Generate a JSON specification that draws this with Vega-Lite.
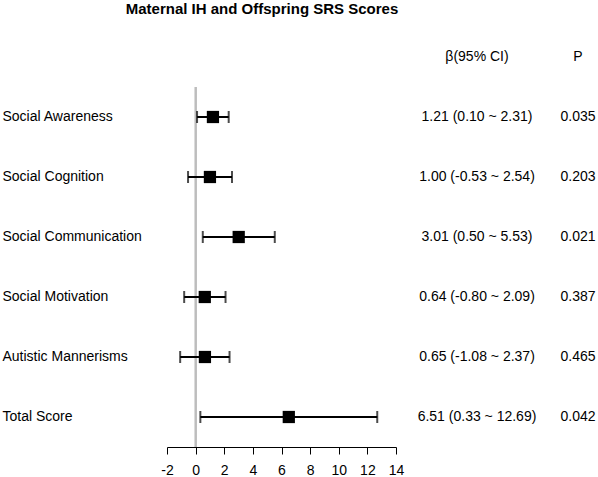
{
  "$schema": "https://vega.github.io/schema/vega-lite/v6.json",
  "padding": {"left": 2, "top": 2, "right": 0, "bottom": 0},
  "background": "white",
  "title": {
    "text": "Maternal IH and Offspring SRS Scores",
    "fontSize": 15,
    "fontWeight": "bold",
    "font": "Liberation Sans",
    "color": "black",
    "anchor": "middle",
    "dx": -38,
    "offset": 33
  },
  "config": {
    "font": "Liberation Sans",
    "view": {"stroke": null},
    "axis": {"labelColor": "black", "labelFont": "Liberation Sans"},
    "axisX": {"labelOverlap": false, "labelBound": false},
    "title": {"font": "Liberation Sans"}
  },
  "data": {
    "values": [
      {"label": "Social Awareness", "beta": 1.21, "lo": 0.10, "hi": 2.31, "ci": "1.21 (0.10 ~ 2.31)", "p": "0.035"},
      {"label": "Social Cognition", "beta": 1.00, "lo": -0.53, "hi": 2.54, "ci": "1.00 (-0.53 ~ 2.54)", "p": "0.203"},
      {"label": "Social Communication", "beta": 3.01, "lo": 0.50, "hi": 5.53, "ci": "3.01 (0.50 ~ 5.53)", "p": "0.021"},
      {"label": "Social Motivation", "beta": 0.64, "lo": -0.80, "hi": 2.09, "ci": "0.64 (-0.80 ~ 2.09)", "p": "0.387"},
      {"label": "Autistic Mannerisms", "beta": 0.65, "lo": -1.08, "hi": 2.37, "ci": "0.65 (-1.08 ~ 2.37)", "p": "0.465"},
      {"label": "Total Score", "beta": 6.51, "lo": 0.33, "hi": 12.69, "ci": "6.51 (0.33 ~ 12.69)", "p": "0.042"}
    ]
  },
  "spacing": 0,
  "bounds": "flush",
  "hconcat": [
    {
      "width": 229,
      "height": 360,
      "encoding": {
        "y": {
          "field": "label",
          "type": "nominal",
          "sort": null,
          "scale": {"paddingInner": 0, "paddingOuter": 0},
          "axis": {
            "title": null,
            "domain": false,
            "ticks": false,
            "tickSize": 0,
            "labelAlign": "left",
            "labelPadding": 165,
            "labelFontSize": 14,
            "labelLimit": 200
          }
        }
      },
      "layer": [
        {
          "mark": {"type": "rule", "color": "#bdbdbd", "strokeWidth": 1.5},
          "encoding": {
            "x": {
              "datum": 0,
              "type": "quantitative",
              "scale": {"domain": [-2, 14], "nice": false, "zero": false},
              "axis": {
                "title": null,
                "values": [-2, 0, 2, 4, 6, 8, 10, 12, 14],
                "tickCount": 9,
                "labelExpr": "'' + datum.value",
                "labelOverlap": false,
                "grid": false,
                "domainColor": "black",
                "tickColor": "black",
                "tickSize": 7,
                "labelFontSize": 14,
                "labelPadding": 9,
                "labelFlush": false
              }
            },
            "y": null
          }
        },
        {
          "mark": {"type": "rule", "color": "black", "strokeWidth": 2},
          "encoding": {
            "x": {"field": "lo", "type": "quantitative"},
            "x2": {"field": "hi"}
          }
        },
        {
          "mark": {"type": "tick", "color": "black", "thickness": 2, "size": 12, "orient": "vertical"},
          "encoding": {"x": {"field": "lo", "type": "quantitative"}}
        },
        {
          "mark": {"type": "tick", "color": "black", "thickness": 2, "size": 12, "orient": "vertical"},
          "encoding": {"x": {"field": "hi", "type": "quantitative"}}
        },
        {
          "mark": {"type": "square", "color": "black", "size": 150, "opacity": 1, "filled": true},
          "encoding": {"x": {"field": "beta", "type": "quantitative"}}
        }
      ]
    },
    {
      "width": 162,
      "height": 360,
      "title": {"text": "β(95% CI)", "fontSize": 14, "fontWeight": "normal", "color": "black", "offset": 23},
      "mark": {"type": "text", "fontSize": 14, "color": "black"},
      "encoding": {
        "y": {"field": "label", "type": "nominal", "sort": null, "scale": {"paddingInner": 0, "paddingOuter": 0}, "axis": null},
        "text": {"field": "ci"}
      }
    },
    {
      "width": 40,
      "height": 360,
      "title": {"text": "P", "fontSize": 14, "fontWeight": "normal", "color": "black", "offset": 23},
      "mark": {"type": "text", "fontSize": 14, "color": "black"},
      "encoding": {
        "y": {"field": "label", "type": "nominal", "sort": null, "scale": {"paddingInner": 0, "paddingOuter": 0}, "axis": null},
        "text": {"field": "p"}
      }
    }
  ]
}
